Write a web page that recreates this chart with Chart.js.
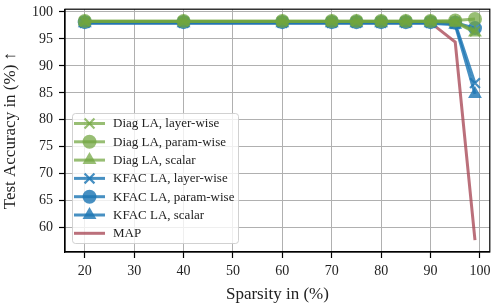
<!DOCTYPE html>
<html>
<head>
<meta charset="utf-8">
<script src="https://cdn.jsdelivr.net/npm/chart.js@4/dist/chart.umd.min.js"></script>
<style>
  html, body { margin: 0; padding: 0; background: #fff; }
  #wrap { width: 499px; height: 305px; position: relative; }
</style>
</head>
<body>
<div id="wrap"><canvas id="chart"></canvas></div>
<script>
/* Test accuracy vs sparsity — Laplace variants vs MAP */

const sparsity = [20, 40, 60, 70, 75, 80, 85, 90, 95, 99];

const diagLayer  = [98.2, 98.2, 98.2, 98.2, 98.2, 98.2, 98.2, 98.2, 98.2, 96.4];
const diagParam  = [98.3, 98.3, 98.3, 98.3, 98.3, 98.3, 98.3, 98.3, 98.4, 98.7];
const diagScalar = [98.2, 98.2, 98.2, 98.2, 98.2, 98.2, 98.2, 98.2, 98.1, 96.2];
const kfacLayer  = [98.0, 98.0, 98.0, 98.0, 98.0, 98.0, 98.0, 98.0, 97.8, 86.8];
const kfacParam  = [98.1, 98.1, 98.1, 98.1, 98.1, 98.1, 98.1, 98.1, 98.0, 97.0];
const kfacScalar = [97.9, 97.9, 97.9, 97.9, 97.9, 97.9, 97.9, 97.9, 97.6, 84.8];
const mapAcc     = [98.0, 98.0, 98.0, 98.0, 98.0, 98.0, 98.0, 98.0, 94.4, 57.7];

const xTicks = [20, 30, 40, 50, 60, 70, 80, 90, 100];
const yTicks = [60, 65, 70, 75, 80, 85, 90, 95, 100];

const GREEN = 'rgba(112, 165, 62, 0.72)';
const BLUE  = 'rgba(31, 119, 180, 0.82)';
const RED   = 'rgba(168, 72, 86, 0.78)';
const SERIF = '"Liberation Serif", "DejaVu Serif", serif';

function series(label, data, color, marker, radius) {
  return {
    label,
    data: data.map((v, i) => ({ x: sparsity[i], y: v })),
    borderColor:          color,
    backgroundColor:      color,
    pointBackgroundColor: color,
    pointBorderColor:     color,
    borderWidth:          3,
    pointStyle:           marker,
    pointRadius:          marker ? radius : 0,
    pointBorderWidth:     marker === 'crossRot' ? 2.2 : 0,
    tension:              0,
    fill:                 false,
    clip:                 false
  };
}

const datasets = [
  series('Diag LA, layer-wise', diagLayer,  GREEN, 'crossRot', 7),
  series('Diag LA, param-wise', diagParam,  GREEN, 'circle',   7),
  series('Diag LA, scalar',     diagScalar, GREEN, 'triangle', 8),
  series('KFAC LA, layer-wise', kfacLayer,  BLUE,  'crossRot', 7),
  series('KFAC LA, param-wise', kfacParam,  BLUE,  'circle',   7),
  series('KFAC LA, scalar',     kfacScalar, BLUE,  'triangle', 8),
  series('MAP',                 mapAcc,     RED,   false,      0)
];

// frame on all four sides + matplotlib-style legend inside the plot
const framePlugin = {
  id: 'frame',
  afterDraw(chart) {
    const { ctx, chartArea: a } = chart;
    ctx.save();

    // legend
    const lx = 72, ly = 113, lw = 166, lh = 130, row = 18.3;
    ctx.fillStyle   = 'rgba(255,255,255,0.8)';
    ctx.strokeStyle = 'rgba(204,204,204,0.9)';
    ctx.lineWidth   = 1;
    ctx.beginPath();
    ctx.roundRect(lx + 0.5, ly + 0.5, lw, lh, 3);
    ctx.fill();
    ctx.stroke();

    chart.data.datasets.forEach((d, i) => {
      const y = ly + 10.5 + i * row;
      ctx.strokeStyle = d.borderColor;
      ctx.lineWidth   = 3;
      ctx.beginPath();
      ctx.moveTo(74, y);
      ctx.lineTo(105, y);
      ctx.stroke();
      if (d.pointStyle) {
        ctx.fillStyle   = d.pointBackgroundColor;
        ctx.strokeStyle = d.pointBorderColor;
        ctx.lineWidth   = d.pointBorderWidth || 0;
        Chart.helpers.drawPoint(ctx, {
          pointStyle:  d.pointStyle,
          radius:      d.pointRadius,
          borderWidth: d.pointBorderWidth || 0,
          rotation:    0
        }, 89.5, y);
      }
      ctx.fillStyle    = '#222';
      ctx.font         = '13px ' + SERIF;
      ctx.textBaseline = 'middle';
      ctx.textAlign    = 'left';
      ctx.fillText(d.label, 113, y + 0.5);
    });

    ctx.strokeStyle = '#000';
    ctx.lineWidth   = 1.2;
    ctx.strokeRect(a.left, a.top, a.right - a.left, a.bottom - a.top);
    ctx.restore();
  }
};

function noPad(axis) {
  axis.paddingTop = 0;
  axis.paddingBottom = 0;
  axis.paddingLeft = 0;
  axis.paddingRight = 0;
}

new Chart(document.getElementById('chart'), {
  type: 'line',
  data: { datasets },
  plugins: [framePlugin],
  options: {
    responsive:          true,
    maintainAspectRatio: false,
    animation:           false,
    layout: { padding: { left: 0, right: 7, top: 2, bottom: 0 } },
    plugins: {
      legend:  { display: false },
      tooltip: { enabled: false }
    },
    scales: {
      x: {
        type: 'linear',
        min:  16,
        max:  102,
        afterBuildTicks: axis => { axis.ticks = xTicks.map(v => ({ value: v })); },
        afterFit: axis => { axis.height = 53; noPad(axis); },
        grid:   { color: '#b0b0b0', lineWidth: 1, tickLength: 6, tickColor: '#000', tickWidth: 1.2 },
        border: { color: '#000', width: 1.2 },
        ticks:  { color: '#222', font: { family: SERIF, size: 14 }, padding: 5, maxRotation: 0 },
        title:  { display: true, text: 'Sparsity in (%)', color: '#222', font: { family: SERIF, size: 17 }, padding: { top: 0, bottom: 0 } }
      },
      y: {
        type: 'linear',
        min:  55.5,
        max:  100.5,
        afterBuildTicks: axis => { axis.ticks = yTicks.map(v => ({ value: v })); },
        afterFit: axis => { axis.width = 65; noPad(axis); },
        grid:   { color: '#b0b0b0', lineWidth: 1, tickLength: 6, tickColor: '#000', tickWidth: 1.2 },
        border: { color: '#000', width: 1.2 },
        ticks:  { color: '#222', font: { family: SERIF, size: 14 }, padding: 6 },
        title:  { display: true, text: 'Test Accuracy in (%) ↑', color: '#222', font: { family: SERIF, size: 17 }, padding: { top: 0, bottom: 0 } }
      }
    }
  }
});
</script>
</body>
</html>
